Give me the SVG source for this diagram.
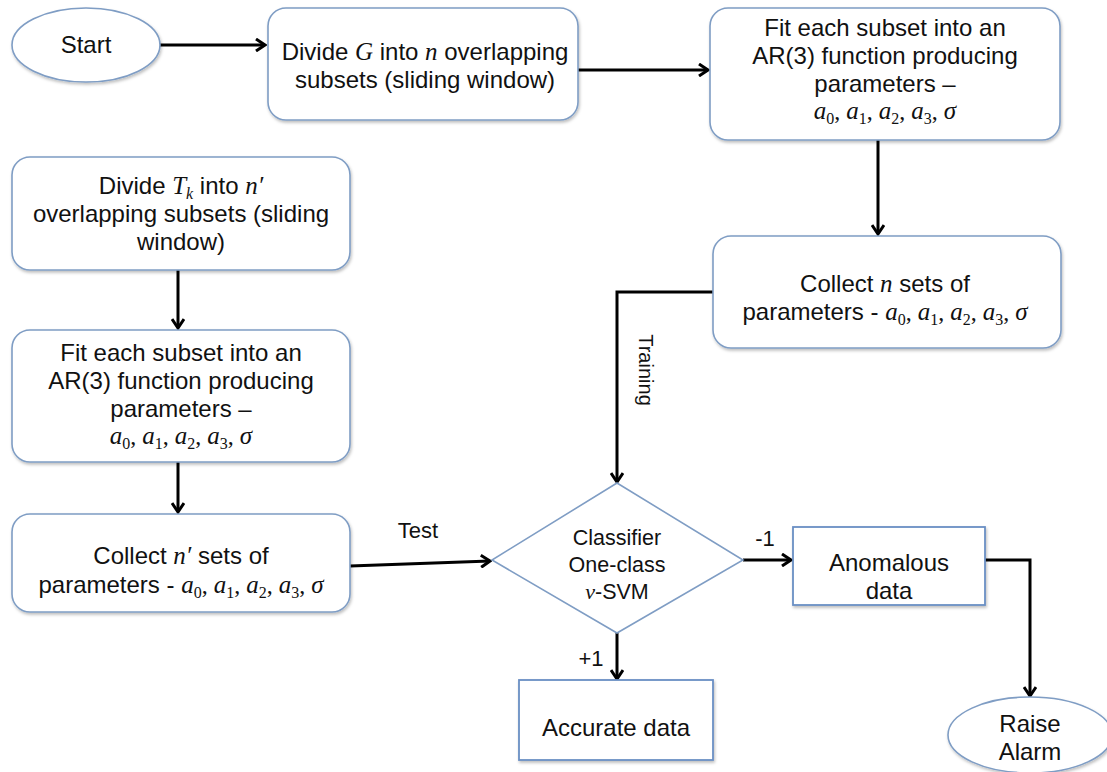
<svg xmlns="http://www.w3.org/2000/svg" width="1107" height="772" viewBox="0 0 1107 772">
<style>
.box{fill:#fff;stroke:#7f9dc4;stroke-width:1.6}
.rbox{fill:#fff;stroke:#6a8fc4;stroke-width:1.8}
.t{font-family:"Liberation Sans",Arial,sans-serif;font-size:24px;fill:#111;text-anchor:middle}
.d{font-size:21.5px}
.m{font-family:"Liberation Serif","DejaVu Serif",serif;font-style:italic;font-size:25px}
.s{font-family:"Liberation Serif","DejaVu Serif",serif;font-size:16px}
.c{font-family:"Liberation Serif","DejaVu Serif",serif;font-size:24px}
.conn{fill:none;stroke:#000;stroke-width:3;marker-end:url(#ah)}
.lbl{font-family:"Liberation Sans",Arial,sans-serif;font-size:22px;fill:#111}
</style>
<defs>
<marker id="ah" markerWidth="12" markerHeight="14" refX="10" refY="7" orient="auto" markerUnits="userSpaceOnUse">
<path d="M1,1 L10,7 L1,13" fill="none" stroke="#000" stroke-width="3"/>
</marker>
<filter id="sh" x="-10%" y="-10%" width="120%" height="130%">
<feDropShadow dx="1" dy="2" stdDeviation="1.5" flood-color="#000" flood-opacity="0.25"/>
</filter>
</defs>
<rect width="1107" height="772" fill="#fff"/>

<g id="connectors">
<line class="conn" x1="160" y1="45" x2="265" y2="45"/>
<line class="conn" x1="578" y1="70" x2="708" y2="70"/>
<line class="conn" x1="878" y1="140" x2="878" y2="234"/>
<polyline class="conn" points="713,292 617,292 617,482"/>
<text class="lbl" transform="rotate(90,646,370)" x="646" y="370" text-anchor="middle" dominant-baseline="central" style="font-size:20px">Training</text>
<line class="conn" x1="178" y1="270" x2="178" y2="328"/>
<line class="conn" x1="178" y1="462" x2="178" y2="512"/>
<line class="conn" x1="350" y1="566" x2="490" y2="561"/>
<text class="lbl" x="418" y="538" text-anchor="middle">Test</text>
<line class="conn" x1="743" y1="560" x2="791" y2="560"/>
<text class="lbl" x="765" y="546" text-anchor="middle">-1</text>
<line class="conn" x1="617" y1="633" x2="617" y2="679"/>
<text class="lbl" x="591" y="666" text-anchor="middle">+1</text>
<polyline class="conn" points="985,560 1030,560 1030,696"/>
</g>

<g id="start">
<ellipse class="box" cx="86" cy="45" rx="74" ry="37" filter="url(#sh)"/>
<text class="t" x="86" y="53">Start</text>
</g>

<g id="divideG">
<rect class="box" x="268" y="8" width="310" height="112" rx="18" filter="url(#sh)"/>
<text class="t" x="425" y="60">Divide <tspan class="m">G</tspan> into <tspan class="m">n</tspan> overlapping</text>
<text class="t" x="425" y="88">subsets (sliding window)</text>
</g>

<g id="fitTop">
<rect class="box" x="710" y="8" width="350" height="132" rx="18" filter="url(#sh)"/>
<text class="t" x="885" y="36">Fit each subset into an</text>
<text class="t" x="885" y="64">AR(3) function producing</text>
<text class="t" x="885" y="92">parameters –</text>
<text class="t" x="885" y="119"><tspan class="m">a</tspan><tspan class="s" dy="5">0</tspan><tspan class="c" dy="-5">, </tspan><tspan class="m">a</tspan><tspan class="s" dy="5">1</tspan><tspan class="c" dy="-5">, </tspan><tspan class="m">a</tspan><tspan class="s" dy="5">2</tspan><tspan class="c" dy="-5">, </tspan><tspan class="m">a</tspan><tspan class="s" dy="5">3</tspan><tspan class="c" dy="-5">, </tspan><tspan class="m">σ</tspan></text>
</g>

<g id="collectN">
<rect class="box" x="713" y="236" width="348" height="112" rx="18" filter="url(#sh)"/>
<text class="t" x="885" y="292">Collect <tspan class="m">n</tspan> sets of</text>
<text class="t" x="885" y="320">parameters - <tspan class="m">a</tspan><tspan class="s" dy="5">0</tspan><tspan class="c" dy="-5">, </tspan><tspan class="m">a</tspan><tspan class="s" dy="5">1</tspan><tspan class="c" dy="-5">, </tspan><tspan class="m">a</tspan><tspan class="s" dy="5">2</tspan><tspan class="c" dy="-5">, </tspan><tspan class="m">a</tspan><tspan class="s" dy="5">3</tspan><tspan class="c" dy="-5">, </tspan><tspan class="m">σ</tspan></text>
</g>

<g id="divideT">
<rect class="box" x="12" y="157" width="338" height="113" rx="18" filter="url(#sh)"/>
<text class="t" x="181" y="194">Divide <tspan class="m">T</tspan><tspan class="s" style="font-style:italic" dy="5">k</tspan><tspan dy="-5"> into </tspan><tspan class="m">n′</tspan></text>
<text class="t" x="181" y="222">overlapping subsets (sliding</text>
<text class="t" x="181" y="250">window)</text>
</g>

<g id="fitLeft">
<rect class="box" x="12" y="330" width="338" height="132" rx="18" filter="url(#sh)"/>
<text class="t" x="181" y="361">Fit each subset into an</text>
<text class="t" x="181" y="389">AR(3) function producing</text>
<text class="t" x="181" y="417">parameters –</text>
<text class="t" x="181" y="444"><tspan class="m">a</tspan><tspan class="s" dy="5">0</tspan><tspan class="c" dy="-5">, </tspan><tspan class="m">a</tspan><tspan class="s" dy="5">1</tspan><tspan class="c" dy="-5">, </tspan><tspan class="m">a</tspan><tspan class="s" dy="5">2</tspan><tspan class="c" dy="-5">, </tspan><tspan class="m">a</tspan><tspan class="s" dy="5">3</tspan><tspan class="c" dy="-5">, </tspan><tspan class="m">σ</tspan></text>
</g>

<g id="collectNp">
<rect class="box" x="12" y="514" width="338" height="98" rx="18" filter="url(#sh)"/>
<text class="t" x="181" y="564">Collect <tspan class="m">n′</tspan> sets of</text>
<text class="t" x="181" y="593">parameters - <tspan class="m">a</tspan><tspan class="s" dy="5">0</tspan><tspan class="c" dy="-5">, </tspan><tspan class="m">a</tspan><tspan class="s" dy="5">1</tspan><tspan class="c" dy="-5">, </tspan><tspan class="m">a</tspan><tspan class="s" dy="5">2</tspan><tspan class="c" dy="-5">, </tspan><tspan class="m">a</tspan><tspan class="s" dy="5">3</tspan><tspan class="c" dy="-5">, </tspan><tspan class="m">σ</tspan></text>
</g>

<g id="classifier">
<polygon class="box" points="617,483 743,560 617,633 492,560"/>
<text class="t d" x="617" y="545">Classifier</text>
<text class="t d" x="617" y="572">One-class</text>
<text class="t d" x="617" y="599"><tspan class="m" style="font-size:22px">ν</tspan>-SVM</text>
</g>

<g id="anomalous">
<rect class="rbox" x="793" y="527" width="192" height="78" filter="url(#sh)"/>
<text class="t" x="889" y="571">Anomalous</text>
<text class="t" x="889" y="599">data</text>
</g>

<g id="accurate">
<rect class="rbox" x="519" y="680" width="194" height="80" filter="url(#sh)"/>
<text class="t" x="616" y="736">Accurate data</text>
</g>

<g id="raise">
<ellipse class="box" cx="1030" cy="735" rx="82" ry="38" filter="url(#sh)"/>
<text class="t" x="1030" y="732">Raise</text>
<text class="t" x="1030" y="760">Alarm</text>
</g>
</svg>
